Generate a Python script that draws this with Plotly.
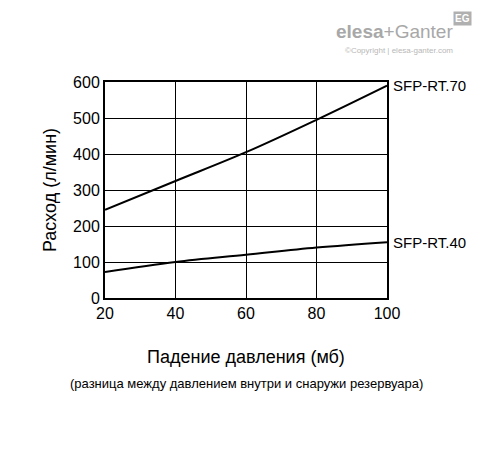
import plotly.graph_objects as go

drop = [20, 40, 60, 80, 100]
rt70 = [245, 325, 405, 495, 590]
rt40 = [72, 100, 120, 140, 155]
x_ticks = [20, 40, 60, 80, 100]
y_ticks = [0, 100, 200, 300, 400, 500, 600]

fig = go.Figure()
fig.add_trace(go.Scatter(x=drop, y=rt70, mode="lines", line=dict(color="black", width=2), line_shape="spline"))
fig.add_trace(go.Scatter(x=drop, y=rt40, mode="lines", line=dict(color="black", width=2), line_shape="spline"))

font = dict(family="Liberation Sans, Arial", color="black")
fig.update_layout(
    width=488, height=454, showlegend=False,
    margin=dict(l=97, r=109, t=74, b=164),
    plot_bgcolor="white", paper_bgcolor="white",
    font=dict(size=16, **font),
)
fig.update_xaxes(range=[20, 100], tickvals=x_ticks, showgrid=True, gridcolor="black", gridwidth=1,
                 showline=True, linecolor="black", linewidth=2, mirror=True, ticks="", zeroline=False)
fig.update_yaxes(range=[0, 600], tickvals=y_ticks, showgrid=True, gridcolor="black", gridwidth=1,
                 showline=True, linecolor="black", linewidth=2, mirror=True, ticks="", zeroline=False,
                 title=dict(text="Расход (л/мин)", font=dict(size=18), standoff=12))

fig.add_annotation(x=100, y=rt70[-1], text="SFP-RT.70", xanchor="left", showarrow=False, xshift=4, font=dict(size=15))
fig.add_annotation(x=100, y=rt40[-1], text="SFP-RT.40", xanchor="left", showarrow=False, xshift=4, font=dict(size=15))
fig.add_annotation(xref="paper", yref="paper", x=0.5, y=-0.33, text="Падение давления (мб)",
                   showarrow=False, font=dict(size=18))
fig.add_annotation(xref="paper", yref="paper", x=0.5, y=-0.44, text="(разница между давлением внутри и снаружи резервуара)",
                   showarrow=False, font=dict(size=13))
fig.add_annotation(xref="paper", yref="paper", x=1.24, y=1.29, xanchor="right", text="<b>elesa</b>+Ganter",
                   showarrow=False, font=dict(size=19, color="#a8a8a8"))
fig.add_annotation(xref="paper", yref="paper", x=1.24, y=1.175, xanchor="right", text="©Copyright | elesa-ganter.com",
                   showarrow=False, font=dict(size=8, color="#b8b8b8"))
fig.add_annotation(xref="paper", yref="paper", x=1.30, y=1.33, text="<b>EG</b>",
                   showarrow=False, bgcolor="#b0b0b0", font=dict(size=10, color="white"))

fig.write_html("out.html")
